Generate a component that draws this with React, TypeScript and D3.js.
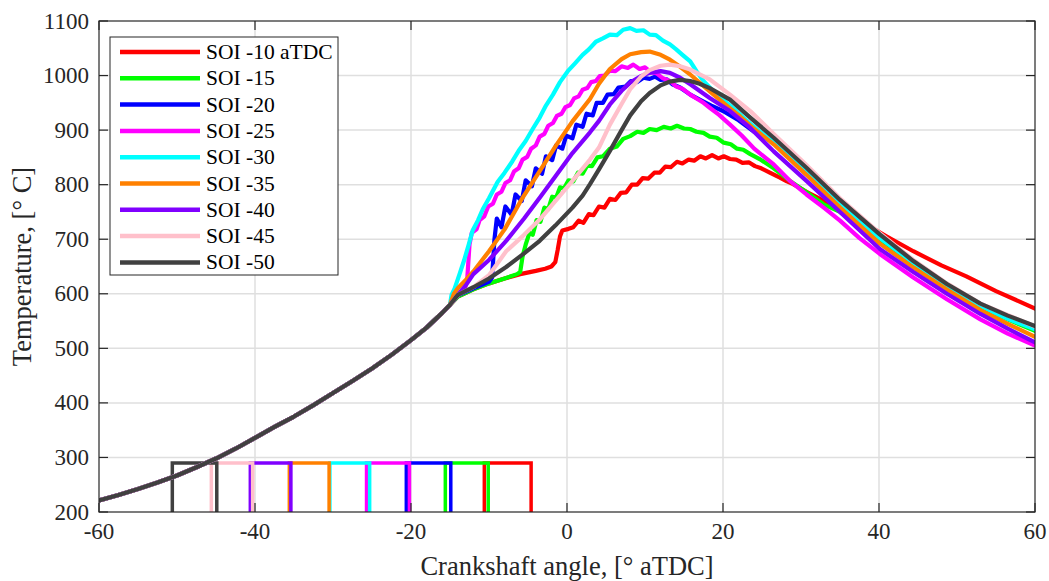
import React from "react";
import * as d3 from "d3";

const seriesNames = ["SOI -10 aTDC", "SOI -15", "SOI -20", "SOI -25", "SOI -30", "SOI -35", "SOI -40", "SOI -45", "SOI -50"];
const seriesColors = ["#ff0000", "#00ff00", "#0000ff", "#ff00ff", "#00ffff", "#ff8000", "#8000ff", "#ffc0cb", "#404040"];

const xTicks = [-60, -40, -20, 0, 20, 40, 60];
const yTicks = [200, 300, 400, 500, 600, 700, 800, 900, 1000, 1100];

// shared compression curve [angle, temperature]
const compression: [number, number][] = [
  [-60, 221], [-57.5, 231], [-55, 242], [-52.5, 254], [-50, 267], [-47.5, 282], [-45, 298],
  [-42.5, 316], [-40, 336], [-37.5, 356], [-35, 375], [-32.5, 396], [-30, 418], [-27.5, 440],
  [-25, 463], [-22.5, 488], [-20, 515], [-18, 538], [-16, 565], [-15, 580],
];

const red: [number, number][] = [
  [-14, 595], [-12, 608], [-10, 619], [-8, 628], [-6, 636], [-4, 642], [-2.8, 646], [-2.0, 650], [-1.5, 658],
  [-1.2, 680], [-0.9, 705], [-0.6, 716], [0.2, 719], [0.8, 722], [1.5, 734], [2.1, 730], [2.8, 746], [3.4, 744],
  [4.1, 760], [4.8, 758], [5.5, 774], [6.2, 772], [6.9, 785], [7.6, 786], [8.3, 800], [9.0, 800], [9.7, 812],
  [10.4, 811], [11.2, 822], [11.9, 822], [12.6, 833], [13.3, 832], [14.1, 842], [14.8, 839], [15.6, 846],
  [16.3, 844], [17.1, 852], [17.8, 848], [18.6, 854], [19.4, 848], [20.1, 852], [20.9, 847], [21.7, 846],
  [22.5, 840], [23.3, 841], [24.1, 834], [24.9, 830], [26, 822], [27.3, 813], [28.2, 806], [29, 801],
  [30.7, 787], [33, 770], [35, 757], [38, 730], [41, 705], [44.4, 678], [48, 652], [51.2, 632], [55, 605], [60, 573],
];

const green: [number, number][] = [
  [-14, 595], [-12, 608], [-10, 619], [-8, 628], [-6.4, 636], [-6.0, 640], [-5.7, 668], [-5.3, 690], [-4.8, 712],
  [-4.4, 708], [-3.9, 735], [-3.4, 732], [-2.9, 758], [-2.4, 755], [-1.9, 778], [-1.4, 776], [-0.9, 795],
  [-0.4, 793], [0.2, 808], [0.8, 806], [1.4, 822], [2.0, 820], [2.6, 835], [3.2, 834], [3.9, 850], [4.6, 852],
  [5.5, 866], [6.4, 870], [7.2, 884], [8.1, 889], [9.0, 897], [9.8, 895], [10.6, 902], [11.5, 900], [12.4, 906],
  [13.3, 903], [14.1, 908], [15.0, 903], [15.8, 902], [16.6, 897], [17.5, 895], [18.3, 888], [19.2, 886],
  [20.1, 877], [21, 874], [21.8, 866], [22.6, 864], [23.5, 856], [24.7, 847], [26.5, 830], [28.6, 807],
  [30.7, 786], [32.9, 764], [35, 750], [37.5, 725], [40.1, 700], [44.4, 656], [48.7, 614], [53, 577], [56.5, 553], [60, 532],
];

const blue: [number, number][] = [
  [-14, 597], [-12, 610], [-10, 622], [-9.6, 630], [-9.3, 700], [-9.0, 738], [-8.4, 722], [-7.9, 760], [-7.1, 745],
  [-6.6, 782], [-5.8, 770], [-5.3, 808], [-4.5, 797], [-4.0, 830], [-3.2, 820], [-2.7, 852], [-1.9, 845],
  [-1.4, 872], [-0.6, 866], [-0.1, 890], [0.7, 885], [1.2, 910], [2.0, 906], [2.5, 930], [3.3, 927], [3.8, 950],
  [4.6, 950], [5.2, 965], [6.0, 966], [6.6, 978], [7.5, 980], [8.2, 990], [9.0, 988], [9.8, 996], [10.6, 994],
  [11.3, 998], [12.0, 992], [12.8, 993], [13.5, 984], [14.5, 978], [15.8, 965], [17.0, 956], [18.5, 945],
  [20, 935], [22, 918], [24, 897], [26.5, 878], [28.5, 853], [30.7, 826], [33, 795], [35, 767], [37.5, 735],
  [40.1, 705], [44.4, 659], [48.7, 617], [53, 580], [56.5, 556], [60, 538],
];

const magenta: [number, number][] = [
  [-14, 598], [-13.2, 605], [-12.8, 625], [-12.5, 690], [-12.2, 712], [-11.6, 718], [-11.2, 735], [-10.6, 742],
  [-10.1, 760], [-9.5, 765], [-9.0, 782], [-8.4, 787], [-7.9, 803], [-7.3, 808], [-6.8, 824], [-6.2, 830],
  [-5.7, 846], [-5.1, 851], [-4.6, 866], [-4.0, 872], [-3.5, 888], [-2.9, 893], [-2.4, 908], [-1.8, 913],
  [-1.3, 926], [-0.7, 930], [-0.2, 942], [0.4, 946], [0.9, 958], [1.5, 962], [2.0, 974], [2.6, 977], [3.1, 988],
  [3.7, 990], [4.2, 999], [4.8, 1000], [5.5, 1009], [6.2, 1008], [7.0, 1017], [7.8, 1014], [8.5, 1020],
  [9.3, 1012], [10.0, 1015], [10.8, 1006], [11.5, 1004], [12.3, 995], [13.2, 990], [14.0, 980], [14.8, 976],
  [15.8, 965], [16.6, 958], [17.5, 950], [18.3, 941], [19.5, 928], [20.9, 910], [22.4, 890], [24, 866],
  [26.5, 837], [28.5, 808], [30.7, 782], [33, 757], [35, 734], [37.5, 702], [40.1, 673], [44.4, 630],
  [48.7, 590], [53, 553], [56.5, 527], [60, 505],
];

const cyan: [number, number][] = [
  [-14.8, 598], [-14.4, 610], [-13.8, 635], [-13.2, 661], [-12.6, 690], [-12.1, 716], [-11.4, 735], [-10.8, 755],
  [-10, 775], [-8.9, 805], [-8, 822], [-7, 843], [-6.2, 862], [-5.3, 880], [-4.4, 902], [-3.5, 923], [-2.7, 945],
  [-1.8, 965], [-0.9, 988], [0.1, 1008], [1, 1022], [2, 1038], [2.8, 1048], [3.7, 1062], [4.6, 1068], [5.5, 1075],
  [6.4, 1074], [7.2, 1084], [8.1, 1087], [8.9, 1082], [9.8, 1083], [10.6, 1075], [11.4, 1074], [12.3, 1064],
  [13.2, 1057], [14.0, 1048], [14.8, 1038], [15.8, 1026], [16.6, 1008], [17.5, 990], [18.3, 978], [19.2, 965],
  [20.3, 952], [21.5, 938], [23, 918], [24.5, 900], [26.5, 878], [28.5, 852], [30.7, 824], [33, 793], [35, 765],
  [37.5, 732], [40.1, 702], [44.4, 657], [48.7, 615], [53, 578], [56.5, 554], [60, 535],
];

const orange: [number, number][] = [
  [-14.5, 600], [-14, 610], [-13, 625], [-12, 641], [-10, 678], [-8, 718], [-5.7, 776], [-3.5, 825], [-1.4, 872],
  [0.7, 916], [2.95, 957], [4.1, 985], [5.5, 1012], [7, 1030], [8.1, 1039], [9.5, 1043], [10.6, 1044], [12, 1038],
  [13.2, 1029], [14.5, 1016], [15.8, 1002], [18.3, 971], [20.9, 940], [22.2, 925], [24, 902], [26.5, 874],
  [30.7, 818], [35, 758], [40.1, 692], [44.4, 648], [48.7, 608], [53, 570], [56.5, 545], [60, 521],
];

const purple: [number, number][] = [
  [-14, 598], [-13, 615], [-12, 636], [-10, 662], [-7.8, 697], [-5.5, 738], [-3.5, 776], [-1.5, 815], [0.7, 858],
  [2.95, 896], [4.1, 917], [5.5, 947], [7, 972], [8.1, 987], [9.5, 999], [10.6, 1005], [12, 1008], [13.2, 1005],
  [14.5, 996], [15.8, 984], [18.3, 959], [20.9, 935], [23.5, 904], [26.5, 861], [30.7, 807], [35, 750],
  [40.1, 682], [44.4, 640], [48.7, 600], [53, 563], [56.5, 536], [60, 511],
];

const pink: [number, number][] = [
  [-14, 598], [-12, 612], [-10, 634], [-7.8, 678], [-5.5, 708], [-3.5, 736], [-1.5, 770], [0.7, 807], [2.95, 846],
  [4.1, 868], [5.5, 910], [7, 948], [8.1, 975], [9.5, 998], [10.6, 1010], [12, 1018], [13.2, 1020], [14.5, 1017],
  [15.8, 1011], [18.3, 993], [20.9, 965], [23.5, 935], [26.5, 893], [30.7, 836], [35, 775], [40.1, 711],
  [44.4, 662], [48.7, 619], [53, 582], [60, 540],
];

const black: [number, number][] = [
  [-14, 598], [-12, 612], [-10, 628], [-7.8, 649], [-5.5, 674], [-3.5, 697], [-1.5, 725], [0.7, 758], [2, 780],
  [2.95, 801], [4.1, 828], [5.5, 862], [7, 900], [8.1, 927], [9.5, 953], [10.6, 968], [12, 982], [13.2, 989],
  [14.5, 992], [15.8, 990], [17, 985], [18.3, 977], [20.9, 956], [23.5, 923], [26.5, 886], [30.7, 831], [35, 772],
  [40.1, 709], [44.4, 660], [48.7, 618], [53, 582], [56.5, 560], [60, 541],
];

const combustion = [red, green, blue, magenta, cyan, orange, purple, pink, black];

// injection pulse windows [start, end] in deg aTDC, pulse level
const pulseStart = [-10.6, -15.6, -20.6, -25.7, -30.4, -35.6, -40.6, -45.6, -50.6];
const pulseEnd = [-4.6, -10.1, -14.9, -20.2, -25.3, -30.5, -35.4, -40.3, -44.9];
const pulseLow = 200;
const pulseHigh = 290;

export default function App() {
  const W = 1049, H = 581;
  const left = 99, right = 1035, top = 21, bottom = 512;
  const x = d3.scaleLinear().domain([-60, 60]).range([left, right]);
  const y = d3.scaleLinear().domain([200, 1100]).range([bottom, top]);
  const line = d3.line<[number, number]>().x(d => x(d[0])).y(d => y(d[1]));
  const axisColor = "#262626";
  const gridColor = "#dfdfdf";
  const font = "'Liberation Serif', 'Times New Roman', serif";
  const tickLen = 9;

  return (
    <svg width={W} height={H} style={{ position: "absolute", left: 0, top: 0, background: "#fff" }} fontFamily={font}>
      <defs>
        <clipPath id="plotclip">
          <rect x={left} y={top} width={right - left} height={bottom - top} />
        </clipPath>
      </defs>
      <rect x={0} y={0} width={W} height={H} fill="#fff" />
      {/* grid */}
      {xTicks.slice(1, -1).map(t => (
        <line key={"gx" + t} x1={x(t)} x2={x(t)} y1={top} y2={bottom} stroke={gridColor} strokeWidth={1.5} />
      ))}
      {yTicks.slice(1, -1).map(t => (
        <line key={"gy" + t} x1={left} x2={right} y1={y(t)} y2={y(t)} stroke={gridColor} strokeWidth={1.5} />
      ))}
      <g clipPath="url(#plotclip)">
        {combustion.map((c, i) => (
          <path
            key={"p" + i}
            d={`M${x(pulseStart[i])},${y(pulseLow)}L${x(pulseStart[i])},${y(pulseHigh)}L${x(pulseEnd[i])},${y(pulseHigh)}L${x(pulseEnd[i])},${y(pulseLow)}`}
            fill="none"
            stroke={seriesColors[i]}
            strokeWidth={3.5}
          />
        ))}
        {combustion.map((c, i) => (
          <path
            key={"c" + i}
            d={line([...compression, ...c]) || ""}
            fill="none"
            stroke={seriesColors[i]}
            strokeWidth={4.2}
            strokeLinejoin="round"
            strokeLinecap="round"
          />
        ))}
      </g>
      {/* box */}
      <rect x={left} y={top} width={right - left} height={bottom - top} fill="none" stroke={axisColor} strokeWidth={1.2} />
      {xTicks.map(t => (
        <g key={"tx" + t}>
          <line x1={x(t)} x2={x(t)} y1={bottom} y2={bottom - tickLen} stroke={axisColor} strokeWidth={1.2} />
          <line x1={x(t)} x2={x(t)} y1={top} y2={top + tickLen} stroke={axisColor} strokeWidth={1.2} />
          <text x={x(t)} y={bottom + 27} textAnchor="middle" fontSize={23} fill={axisColor}>{t}</text>
        </g>
      ))}
      {yTicks.map(t => (
        <g key={"ty" + t}>
          <line x1={left} x2={left + tickLen} y1={y(t)} y2={y(t)} stroke={axisColor} strokeWidth={1.2} />
          <line x1={right} x2={right - tickLen} y1={y(t)} y2={y(t)} stroke={axisColor} strokeWidth={1.2} />
          <text x={left - 10} y={y(t)} textAnchor="end" dominantBaseline="central" fontSize={23} fill={axisColor}>{t}</text>
        </g>
      ))}
      <text x={(left + right) / 2} y={575} textAnchor="middle" fontSize={26.5} fill={axisColor}>Crankshaft angle, [° aTDC]</text>
      <text transform={`translate(31,${(top + bottom) / 2}) rotate(-90)`} textAnchor="middle" fontSize={26.5} fill={axisColor}>Temperature, [° C]</text>
      {/* legend */}
      <rect x={110} y={37} width={228} height={238} fill="#fff" stroke={axisColor} strokeWidth={1} />
      {seriesNames.map((n, i) => {
        const cy = 52 + i * 26.3;
        return (
          <g key={"l" + i}>
            <line x1={120} x2={200} y1={cy} y2={cy} stroke={seriesColors[i]} strokeWidth={4.5} />
            <text x={206} y={cy} dominantBaseline="central" fontSize={21.5} fill="#000">{n}</text>
          </g>
        );
      })}
    </svg>
  );
}
